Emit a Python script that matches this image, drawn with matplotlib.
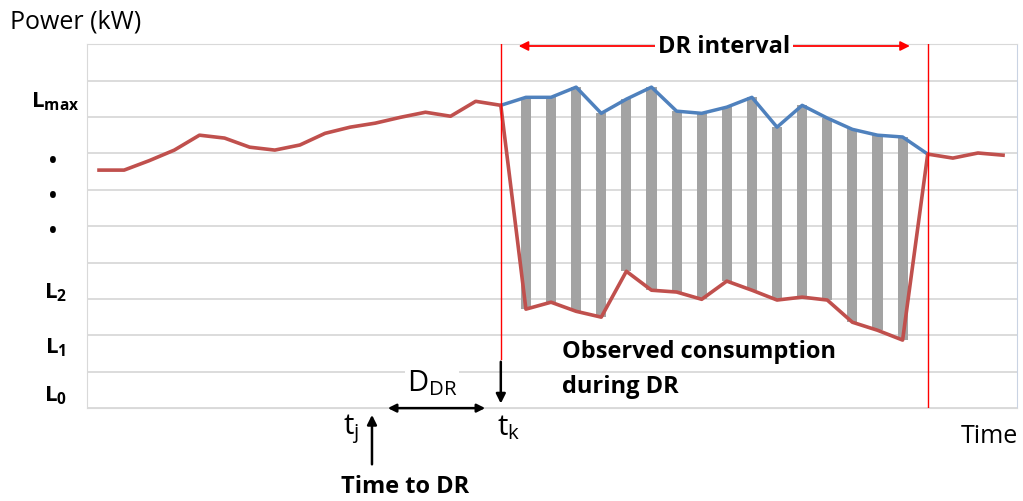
import matplotlib.pyplot as plt
import numpy as np

plt.rcParams['font.family'] = ['Open Sans', 'DejaVu Sans']
plt.rcParams['mathtext.fontset'] = 'custom'
plt.rcParams['mathtext.rm'] = 'Open Sans'
plt.rcParams['mathtext.it'] = 'Open Sans'
plt.rcParams['mathtext.bf'] = 'Open Sans:bold'

# time steps (one per sample)
t = np.arange(37)
# observed consumption (red): baseline before DR, reduced during DR, baseline after
observed = [6.54, 6.54, 6.80, 7.09, 7.50, 7.42, 7.17, 7.09, 7.23, 7.55, 7.72, 7.83,
            7.99, 8.13, 8.02, 8.43, 8.32,
            2.72, 2.91, 2.66, 2.50, 3.76, 3.24, 3.19, 2.99, 3.49, 3.24, 2.97, 3.05,
            2.97, 2.36, 2.14, 1.87,
            6.98, 6.87, 7.01, 6.95]
# expected consumption without DR (blue), steps 16..33
dr_start, dr_end = 16, 33
baseline = [8.32, 8.54, 8.54, 8.82, 8.10, 8.49, 8.82, 8.16, 8.10, 8.27, 8.54,
            7.72, 8.32, 7.97, 7.66, 7.50, 7.45, 6.98]

level_labels = [r'$\mathbf{L_{max}}$', '\u2022', '\u2022', '\u2022',
                r'$\mathbf{L_2}$', r'$\mathbf{L_1}$', r'$\mathbf{L_0}$']
level_pos = [8.46, 6.79, 5.82, 4.86, 3.19, 1.70, 0.38]
level_size = [16, 15, 15, 15, 16, 16, 16]

t_dr = t[dr_start:dr_end + 1]
obs = np.array(observed)

fig = plt.figure(figsize=(10.23, 5.02), dpi=100)
ax = fig.add_axes([0.085, 0.185, 0.909, 0.725])

ax.set_xlim(-0.48, 36.55)
ax.set_ylim(0, 10)
ax.set_yticks(np.arange(0, 11))
ax.set_yticklabels([])
ax.set_xticks([])
ax.tick_params(length=0)
ax.grid(axis='y', color='#d9d9d9', lw=1.3)
ax.set_axisbelow(True)
for s in ax.spines.values():
    s.set_color('#d9d9d9')
ax.spines['right'].set_color('#c9d3e3')

# gray bars = reduction between baseline and observed
bar_t = t[dr_start + 1:dr_end]
bar_top = np.array(baseline[1:-1])
bar_bot = obs[dr_start + 1:dr_end]
ax.bar(bar_t, bar_top - bar_bot, bottom=bar_bot, width=0.4, color='#a3a3a3', zorder=2)

ax.plot(t_dr, baseline, color='#4f81bd', lw=2.5, zorder=3)
ax.plot(t, observed, color='#c0504d', lw=2.6, zorder=4)

# DR interval boundaries
ax.plot([dr_start, dr_start], [1.35, 10], color='red', lw=1, zorder=5)
ax.plot([dr_end, dr_end], [0, 10], color='red', lw=1, zorder=5)

# labels on the left
for lab, y, fs in zip(level_labels, level_pos, level_size):
    xl = -0.034 if fs > 15 else -0.037
    ax.text(xl, y, lab, transform=ax.get_yaxis_transform(), ha='center', va='center',
            fontsize=fs, fontweight='bold')

# DR interval arrow
ax.annotate('', xy=(16.6, 9.95), xytext=(32.4, 9.95),
            arrowprops=dict(arrowstyle='<|-|>', color='red', lw=1.3, mutation_scale=14),
            annotation_clip=False)
ax.text(24.9, 9.95, 'DR interval', ha='center', va='center', fontsize=17, fontweight='bold',
        bbox=dict(facecolor='white', edgecolor='none', pad=2), zorder=6, clip_on=False)

# t_k arrow
ax.annotate('', xy=(16, 0.05), xytext=(16, 1.35),
            arrowprops=dict(arrowstyle='-|>', color='black', lw=1.8, mutation_scale=14),
            annotation_clip=False)
# D_DR arrow
ax.annotate('', xy=(11.39, 0), xytext=(15.49, 0),
            arrowprops=dict(arrowstyle='<|-|>', color='black', lw=1.8, mutation_scale=12),
            annotation_clip=False)
ax.text(13.26, 0.72, r'D$_{\mathregular{DR}}$', ha='center', va='center', fontsize=21,
        bbox=dict(facecolor='white', edgecolor='none', pad=1))
ax.text(10.03, -0.55, r't$_{\mathregular{j}}$', ha='center', va='center', fontsize=21,
        clip_on=False)
ax.text(16.3, -0.5, r't$_{\mathregular{k}}$', ha='center', va='center', fontsize=21,
        clip_on=False)

# Time to DR arrow
ax.annotate('', xy=(10.87, -0.11), xytext=(10.87, -1.62),
            arrowprops=dict(arrowstyle='-|>', color='black', lw=1.8, mutation_scale=14),
            annotation_clip=False)
ax.text(12.18, -2.14, 'Time to DR', ha='center', va='center', fontsize=17, fontweight='bold',
        clip_on=False)

ax.text(18.43, 1.57, 'Observed consumption', ha='left', va='center', fontsize=17,
        fontweight='bold')
ax.text(18.43, 0.60, 'during DR', ha='left', va='center', fontsize=17, fontweight='bold',
        bbox=dict(facecolor='white', edgecolor='none', pad=1))

fig.text(10 / 1023, 1 - 22 / 502, 'Power (kW)', ha='left', va='center', fontsize=18)
fig.text(1018 / 1023, 1 - 437 / 502, 'Time', ha='right', va='center', fontsize=18)

fig.savefig('out.png', dpi=100)
